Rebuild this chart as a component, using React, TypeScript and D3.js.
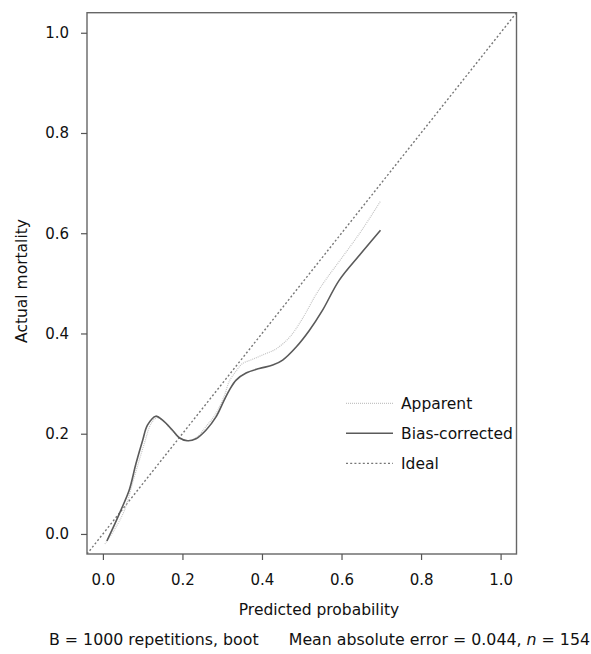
import React, { useEffect, useRef } from 'react';
import * as d3 from 'd3';

// calibration curves
const apparentX = [0.005, 0.03, 0.054, 0.079, 0.104, 0.121, 0.136, 0.152, 0.175, 0.195, 0.215, 0.236, 0.259, 0.284, 0.305, 0.318, 0.335, 0.351, 0.375, 0.401, 0.435, 0.469, 0.502, 0.536, 0.561, 0.6, 0.65, 0.698];
const apparentY = [-0.02, 0.01, 0.047, 0.114, 0.18, 0.22, 0.232, 0.225, 0.205, 0.19, 0.186, 0.193, 0.214, 0.24, 0.275, 0.305, 0.325, 0.34, 0.348, 0.357, 0.369, 0.392, 0.43, 0.478, 0.508, 0.55, 0.605, 0.664];

const biasX = [0.01, 0.03, 0.045, 0.066, 0.083, 0.1, 0.112, 0.133, 0.15, 0.175, 0.192, 0.213, 0.234, 0.259, 0.284, 0.305, 0.318, 0.335, 0.36, 0.393, 0.427, 0.452, 0.486, 0.519, 0.552, 0.594, 0.645, 0.698];
const biasY = [-0.014, 0.02, 0.047, 0.087, 0.14, 0.187, 0.217, 0.235, 0.227, 0.207, 0.192, 0.186, 0.19, 0.207, 0.233, 0.267, 0.287, 0.307, 0.321, 0.33, 0.337, 0.347, 0.373, 0.406, 0.446, 0.506, 0.556, 0.606];

const ticks = [0, 0.2, 0.4, 0.6, 0.8, 1.0];
const legendLabels = ['Apparent', 'Bias-corrected', 'Ideal'];

const App = () => {
  const svgRef = useRef<SVGSVGElement>(null);

  useEffect(() => {
    const svg = d3.select(svgRef.current);
    svg.selectAll('*').remove();

    const font = 'DejaVu Sans, Verdana, sans-serif';
    const x = d3.scaleLinear().domain([-0.04, 1.04]).range([87, 516.5]);
    const y = d3.scaleLinear().domain([-0.04, 1.04]).range([554, 12.7]);

    svg.append('defs').append('clipPath').attr('id', 'plotclip')
      .append('rect')
      .attr('x', 87).attr('y', 12.7)
      .attr('width', 429.5).attr('height', 541.3);

    // ideal line
    svg.append('line')
      .attr('clip-path', 'url(#plotclip)')
      .attr('x1', x(-0.04)).attr('y1', y(-0.04))
      .attr('x2', x(1.04)).attr('y2', y(1.04))
      .attr('stroke', '#777')
      .attr('stroke-width', 1.4)
      .attr('stroke-dasharray', '2,2.2');

    const line = d3.line<[number, number]>()
      .x(d => x(d[0]))
      .y(d => y(d[1]))
      .curve(d3.curveCatmullRom.alpha(0.5));

    const apparent = apparentX.map((v, i) => [v, apparentY[i]] as [number, number]);
    const bias = biasX.map((v, i) => [v, biasY[i]] as [number, number]);

    svg.append('path')
      .datum(apparent)
      .attr('fill', 'none')
      .attr('stroke', '#c4c4c4')
      .attr('stroke-width', 1.2)
      .attr('stroke-dasharray', '1,1')
      .attr('d', line);

    svg.append('path')
      .datum(bias)
      .attr('fill', 'none')
      .attr('stroke', '#5a5a5a')
      .attr('stroke-width', 1.6)
      .attr('d', line);

    // box
    svg.append('rect')
      .attr('x', 87).attr('y', 12.7)
      .attr('width', 429.5).attr('height', 541.3)
      .attr('fill', 'none')
      .attr('stroke', '#666')
      .attr('stroke-width', 1.4);

    // axes
    const xAxis = d3.axisBottom(x).tickValues(ticks).tickSize(6).tickPadding(14)
      .tickFormat(d3.format('.1f'));
    const gx = svg.append('g').attr('transform', 'translate(0,554)').call(xAxis);
    gx.select('.domain').remove();

    const yAxis = d3.axisLeft(y).tickValues(ticks).tickSize(6).tickPadding(12)
      .tickFormat(d3.format('.1f'));
    const gy = svg.append('g').attr('transform', 'translate(87,0)').call(yAxis);
    gy.select('.domain').remove();

    svg.selectAll('.tick line').attr('stroke', '#555').attr('stroke-width', 1.2);
    svg.selectAll('.tick text')
      .attr('font-family', font)
      .attr('font-size', 15)
      .attr('fill', '#111');

    // axis titles
    svg.append('text')
      .attr('x', 319).attr('y', 615)
      .attr('text-anchor', 'middle')
      .attr('font-family', font).attr('font-size', 15.5).attr('fill', '#111')
      .text('Predicted probability');

    svg.append('text')
      .attr('transform', 'translate(27,281) rotate(-90)')
      .attr('text-anchor', 'middle')
      .attr('font-family', font).attr('font-size', 15.5).attr('fill', '#111')
      .text('Actual mortality');

    svg.append('text')
      .attr('x', 49).attr('y', 645)
      .attr('font-family', font).attr('font-size', 15.8).attr('fill', '#111')
      .text('B = 1000 repetitions, boot');

    const sub = svg.append('text')
      .attr('x', 590).attr('y', 645)
      .attr('text-anchor', 'end')
      .attr('font-family', font).attr('font-size', 15.8).attr('fill', '#111');
    sub.append('tspan').text('Mean absolute error = 0.044, ');
    sub.append('tspan').attr('font-style', 'italic').text('n');
    sub.append('tspan').text(' = 154');

    // legend
    const styles = [
      { stroke: '#c4c4c4', width: 1.2, dash: '1,1' },
      { stroke: '#5a5a5a', width: 1.6, dash: null },
      { stroke: '#777', width: 1.3, dash: '2,2.2' },
    ];
    const lg = svg.append('g');
    legendLabels.forEach((lab, i) => {
      const yy = 403.3 + i * 30;
      lg.append('line')
        .attr('x1', 346).attr('x2', 393)
        .attr('y1', yy).attr('y2', yy)
        .attr('stroke', styles[i].stroke)
        .attr('stroke-width', styles[i].width)
        .attr('stroke-dasharray', styles[i].dash);
      lg.append('text')
        .attr('x', 401).attr('y', yy)
        .attr('dy', '0.36em')
        .attr('font-family', font).attr('font-size', 15.5).attr('fill', '#111')
        .text(lab);
    });
  }, []);

  return (
    <svg ref={svgRef} width={591} height={654}
      style={{ position: 'absolute', left: 0, top: 0, background: '#fff' }} />
  );
};

export default App;
